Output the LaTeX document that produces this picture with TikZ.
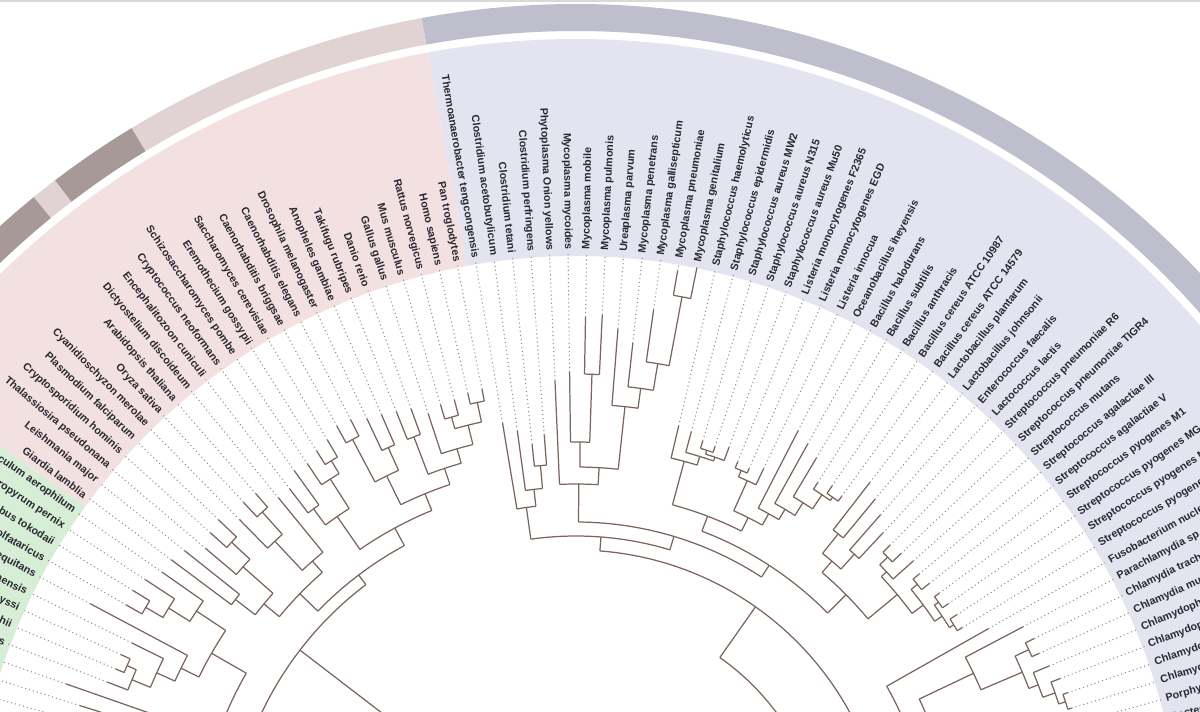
\documentclass[tikz,border=0pt]{standalone}
\usepackage{fontspec}
\setmainfont{Liberation Sans}
\usepackage{tikz}
\usetikzlibrary{calc}
\definecolor{bandpink}{RGB}{243,224,225}
\definecolor{bandlav}{RGB}{228,228,240}
\definecolor{bandgreen}{RGB}{214,237,214}
\definecolor{ringlav}{RGB}{190,190,204}
\definecolor{ringrose}{RGB}{225,211,211}
\definecolor{ringdark}{RGB}{168,153,153}
\definecolor{treeline}{RGB}{122,100,92}
\definecolor{dotgray}{RGB}{140,140,140}
\definecolor{labgray}{RGB}{40,40,46}

% radii (in picture units) where the labels and the dotted leaders stop
\newcommand{\rlab}{612}
\newcommand{\rdot}{608}
% tips are spaced 1.75 degrees apart, tip 0 is the first bacterium
\newcommand{\tipangle}[1]{99.5-1.75*(#1)}

% one tip: index, radius of the tip, radius of its parent node
\newcommand{\leaf}[3]{%
  \pgfmathsetmacro\lfang{\tipangle{#1}}%
  \draw[branch] ($(C)+(\lfang:#3)$) -- ($(C)+(\lfang:#2)$);
  \draw[leader] ($(C)+(\lfang:#2)$) -- ($(C)+(\lfang:\rdot)$);%
}
% one inner node: first child, last child, radius of the node, radius of its parent
\newcommand{\clade}[4]{%
  \pgfmathsetmacro\cla{\tipangle{#1}}%
  \pgfmathsetmacro\clb{\tipangle{#2}}%
  \pgfmathsetmacro\clm{(\cla+\clb)/2}%
  \draw[branch] ($(C)+(\cla:#3)$)
    arc[start angle=\cla, end angle=\clb, radius=#3*0.02cm];
  \draw[branch] ($(C)+(\clm:#4)$) -- ($(C)+(\clm:#3)$);%
}
% a piece of annulus: colour, start angle, end angle, inner radius, outer radius
\newcommand{\band}[5]{%
  \fill[#1] ($(C)+(#2:#4)$) arc[start angle=#2, end angle=#3, radius=#4*0.02cm]
    -- ($(C)+(#3:#5)$) arc[start angle=#3, end angle=#2, radius=#5*0.02cm]
    -- cycle;%
}
% a radial label that stays readable on the left half
\newcommand{\taxon}[3]{%
  \pgfmathsetmacro\txa{#2}%
  \ifdim\txa pt>90pt
    \pgfmathsetmacro\txr{\txa-180}%
    \node[lab, anchor=east, rotate=\txr] (#1) at ($(C)+(\txa:\rlab)$) {#3};%
  \else
    \node[lab, anchor=west, rotate=\txa] (#1) at ($(C)+(\txa:\rlab)$) {#3};%
  \fi
}

\begin{document}
\begin{tikzpicture}[x=0.02cm, y=0.02cm, line join=round,
    branch/.style={draw=treeline, line width=0.7pt},
    leader/.style={draw=dotgray, line width=0.6pt, dash pattern=on 0.6pt off 1.7pt},
    lab/.style={text=labgray, inner sep=0pt, font=\bfseries\fontsize{6.1}{7}\selectfont}]
  \useasboundingbox (0,0) rectangle (1200,711);
  \clip (0,0) rectangle (1200,711);
  \coordinate (C) at (576,-151);

  % domain bands behind the labels
  \band{bandlav}{0}{100.375}{606}{823}
  \band{bandpink}{100.375}{144.125}{606}{823}
  \band{bandgreen}{144.125}{185}{606}{823}

  % outer ring
  \band{ringlav}{0}{100.375}{831}{858}
  \band{ringrose}{100.375}{121.2}{831}{858}
  \band{ringdark}{121.2}{127.4}{831}{858}
  \band{ringrose}{127.4}{129.2}{831}{858}
  \band{ringdark}{129.2}{185}{831}{858}
  \fill[gray!30] (0,709) rectangle (1200,711);

  % labels
  \foreach \nm [count=\k from 0] in {Thermoanaerobacter tengcongensis,
      Clostridium acetobutylicum, Clostridium tetani, Clostridium perfringens,
      Phytoplasma Onion yellows, Mycoplasma mycoides, Mycoplasma mobile,
      Mycoplasma pulmonis, Ureaplasma parvum, Mycoplasma penetrans,
      Mycoplasma gallisepticum, Mycoplasma pneumoniae, Mycoplasma genitalium,
      Staphylococcus haemolyticus, Staphylococcus epidermidis,
      Staphylococcus aureus MW2, Staphylococcus aureus N315,
      Staphylococcus aureus Mu50, Listeria monocytogenes F2365,
      Listeria monocytogenes EGD, Listeria innocua, Oceanobacillus iheyensis,
      Bacillus halodurans, Bacillus subtilis, Bacillus anthracis,
      Bacillus cereus ATCC 10987, Bacillus cereus ATCC 14579,
      Lactobacillus plantarum, Lactobacillus johnsonii, Enterococcus faecalis,
      Lactococcus lactis, Streptococcus pneumoniae R6,
      Streptococcus pneumoniae TIGR4, Streptococcus mutans,
      Streptococcus agalactiae III, Streptococcus agalactiae V,
      Streptococcus pyogenes M1, Streptococcus pyogenes MGAS8232,
      Streptococcus pyogenes MGAS315, Streptococcus pyogenes SSI-1,
      Fusobacterium nucleatum, Parachlamydia sp., Chlamydia trachomatis,
      Chlamydia muridarum, Chlamydophila caviae,
      Chlamydophila pneumoniae CWL029, Chlamydophila pneumoniae J138,
      Chlamydophila pneumoniae AR39, Porphyromonas gingivalis,
      Bacteroides thetaiotaomicron, Bacteroides fragilis, Chlorobium tepidum,
      Rhodopirellula baltica}
    \taxon{bac-\k}{99.5-1.75*\k}{\nm};
  \foreach \nm [count=\k from 0] in {Pan troglodytes, Homo sapiens,
      Rattus norvegicus, Mus musculus, Gallus gallus, Danio rerio,
      Takifugu rubripes, Anopheles gambiae, Drosophila melanogaster,
      Caenorhabditis elegans, Caenorhabditis briggsae,
      Saccharomyces cerevisiae, Eremothecium gossypii,
      Schizosaccharomyces pombe, Cryptococcus neoformans,
      Encephalitozoon cuniculi, Dictyostelium discoideum,
      Arabidopsis thaliana, Oryza sativa, Cyanidioschyzon merolae,
      Plasmodium falciparum, Cryptosporidium hominis,
      Thalassiosira pseudonana, Leishmania major, Giardia lamblia}
    \taxon{euk-\k}{101.25+1.75*\k}{\nm};
  \foreach \nm [count=\k from 0] in {Pyrobaculum aerophilum, Aeropyrum pernix,
      Sulfolobus tokodaii, Sulfolobus solfataricus, Nanoarchaeum equitans,
      Thermococcus kodakaraensis, Pyrococcus abyssi, Pyrococcus horikoshii,
      Pyrococcus furiosus, Methanopyrus kandleri,
      Methanothermobacter thermautotrophicus, Methanococcus jannaschii,
      Methanococcus maripaludis, Archaeoglobus fulgidus, Halobacterium sp.}
    \taxon{arch-\k}{145+1.75*\k}{\nm};

  % Clostridia
  \clade{2}{3}{398}{375} \leaf{2}{420}{398} \leaf{3}{428}{398}
  \clade{1}{2.5}{375}{358} \leaf{1}{435}{375}
  \clade{0}{1.75}{358}{326} \leaf{0}{445}{358}
  % Mollicutes
  \clade{6}{7}{488}{420} \leaf{6}{545}{488} \leaf{7}{548}{488}
  \clade{5}{6.5}{420}{395} \leaf{5}{490}{420}
  \clade{11}{12}{575}{505} \leaf{11}{600}{575} \leaf{12}{606}{575}
  \clade{10}{11.5}{505}{478} \leaf{10}{558}{505}
  \clade{9}{10.75}{478}{458} \leaf{9}{522}{478}
  \clade{8}{9.875}{458}{395} \leaf{8}{535}{458}
  \clade{5.75}{8.94}{395}{378}
  \clade{4}{7.34}{378}{340} \leaf{4}{482}{378}
  % Bacillales
  \clade{15}{16}{432}{428} \leaf{15}{440}{432} \leaf{16}{438}{432}
  \clade{15.5}{17}{428}{424} \leaf{17}{442}{428}
  \clade{14}{16.25}{424}{415} \leaf{14}{445}{424}
  \clade{13}{15.13}{415}{370} \leaf{13}{448}{415}
  \clade{18}{19}{425}{418} \leaf{18}{432}{425} \leaf{19}{430}{425}
  \clade{18.5}{20}{418}{385} \leaf{20}{436}{418}
  \clade{25}{26}{446}{442} \leaf{25}{455}{446} \leaf{26}{452}{446}
  \clade{24}{25.5}{442}{425} \leaf{24}{450}{442}
  \clade{23}{24.75}{425}{410} \leaf{23}{470}{425}
  \clade{22}{23.88}{410}{398} \leaf{22}{478}{410}
  \clade{21}{22.94}{398}{385} \leaf{21}{485}{398}
  \clade{19.25}{21.97}{385}{370}
  \clade{14.06}{20.61}{370}{354}
  % Lactobacillales
  \clade{27}{28}{420}{395} \leaf{27}{480}{420} \leaf{28}{470}{420}
  \clade{29}{30}{415}{395} \leaf{29}{462}{415} \leaf{30}{450}{415}
  \clade{27.5}{29.5}{395}{380}
  \clade{31}{32}{436}{425} \leaf{31}{446}{436} \leaf{32}{448}{436}
  \clade{31.5}{33}{425}{418} \leaf{33}{452}{425}
  \clade{34}{35}{440}{432} \leaf{34}{448}{440} \leaf{35}{450}{440}
  \clade{36}{37}{446}{441} \leaf{36}{452}{446} \leaf{37}{453}{446}
  \clade{38}{39}{446}{441} \leaf{38}{454}{446} \leaf{39}{452}{446}
  \clade{36.5}{38.5}{441}{432}
  \clade{34.5}{37.5}{432}{418}
  \clade{32.25}{36}{418}{380}
  \clade{28.5}{34.13}{380}{354}
  % Firmicutes backbone
  \clade{17.34}{31.31}{354}{340}
  \clade{5.67}{24.32}{340}{326}
  \clade{0.875}{15}{326}{312}
  % Fusobacteria, Chlamydiae, Bacteroidetes
  \leaf{40}{474}{357}
  \clade{42}{43}{500}{485} \leaf{42}{510}{500} \leaf{43}{508}{500}
  \clade{46}{47}{515}{508} \leaf{46}{520}{515} \leaf{47}{519}{515}
  \clade{45}{46.5}{508}{495} \leaf{45}{518}{508}
  \clade{44}{45.75}{495}{485} \leaf{44}{512}{495}
  \clade{42.5}{44.88}{485}{440}
  \clade{41}{43.69}{440}{380} \leaf{41}{505}{440}
  \clade{49}{50}{490}{470} \leaf{49}{500}{490} \leaf{50}{498}{490}
  \clade{48}{49.5}{470}{440} \leaf{48}{505}{470}
  \clade{48.75}{51}{440}{380} \leaf{51}{520}{440}
  \clade{42.34}{49.88}{380}{357}
  \clade{40}{46.11}{357}{312}
  \clade{7.94}{43.06}{312}{250}
  \leaf{52}{540}{250}
  \clade{25.5}{52}{250}{100}

  % Eukaryota
  \clade{-1}{-2}{470}{450} \leaf{-1}{482}{470} \leaf{-2}{481}{470}
  \clade{-3}{-4}{462}{450} \leaf{-3}{478}{462} \leaf{-4}{477}{462}
  \clade{-1.5}{-3.5}{450}{430}
  \clade{-2.5}{-5}{430}{415} \leaf{-5}{472}{430}
  \clade{-6}{-7}{455}{415} \leaf{-6}{482}{455} \leaf{-7}{485}{455}
  \clade{-3.75}{-6.5}{415}{398}
  \clade{-8}{-9}{455}{430} \leaf{-8}{488}{455} \leaf{-9}{490}{455}
  \clade{-10}{-11}{478}{430} \leaf{-10}{496}{478} \leaf{-11}{497}{478}
  \clade{-8.5}{-10.5}{430}{398}
  \clade{-5.13}{-9.5}{398}{380}
  \clade{-12}{-13}{470}{455} \leaf{-12}{490}{470} \leaf{-13}{486}{470}
  \clade{-12.5}{-14}{455}{420} \leaf{-14}{480}{455}
  \clade{-15}{-16}{440}{420} \leaf{-15}{482}{440} \leaf{-16}{470}{440}
  \clade{-13.25}{-15.5}{420}{380}
  \clade{-7.31}{-14.38}{380}{360}
  \clade{-18}{-19}{470}{440} \leaf{-18}{488}{470} \leaf{-19}{490}{470}
  \clade{-18.5}{-20}{440}{400} \leaf{-20}{480}{440}
  \clade{-17}{-19.25}{400}{385} \leaf{-17}{470}{400}
  \clade{-21}{-22}{470}{445} \leaf{-21}{495}{470} \leaf{-22}{492}{470}
  \clade{-21.5}{-23}{445}{405} \leaf{-23}{485}{445}
  \clade{-24}{-25}{430}{405} \leaf{-24}{500}{430} \leaf{-25}{505}{430}
  \clade{-22.25}{-24.5}{405}{385}
  \clade{-18.13}{-23.38}{385}{360}
  \clade{-10.84}{-20.75}{360}{348}

  % Archaea
  \clade{-28}{-29}{500}{480} \leaf{-28}{520}{500} \leaf{-29}{518}{500}
  \clade{-27}{-28.5}{480}{455} \leaf{-27}{515}{480}
  \clade{-26}{-27.75}{455}{420} \leaf{-26}{505}{455}
  \clade{-32}{-33}{490}{480} \leaf{-32}{500}{490} \leaf{-33}{499}{490}
  \clade{-32.5}{-34}{480}{460} \leaf{-34}{502}{480}
  \clade{-31}{-33.25}{460}{440} \leaf{-31}{495}{460}
  \clade{-30}{-32.13}{440}{420} \leaf{-30}{550}{440}
  \clade{-26.88}{-31.06}{420}{380}
  \clade{-37}{-38}{485}{460} \leaf{-37}{505}{485} \leaf{-38}{508}{485}
  \clade{-36}{-37.5}{460}{440} \leaf{-36}{520}{460}
  \clade{-35}{-36.75}{440}{410} \leaf{-35}{540}{440}
  \clade{-39}{-40}{470}{410} \leaf{-39}{515}{470} \leaf{-40}{525}{470}
  \clade{-35.88}{-39.5}{410}{380}
  \clade{-28.97}{-37.69}{380}{348}
  \clade{-15.8}{-33.33}{348}{100}
\end{tikzpicture}
\end{document}
